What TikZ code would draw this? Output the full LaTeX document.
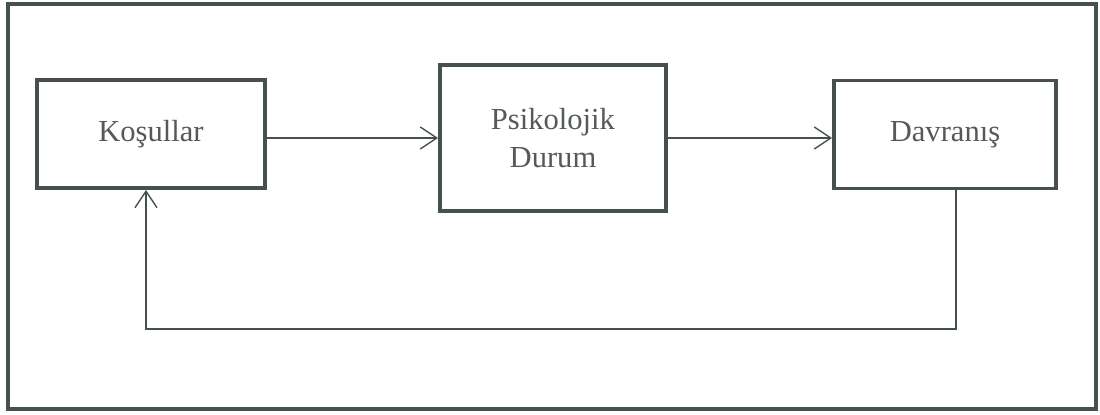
\documentclass[tikz,border=0pt]{standalone}
\usepackage{fontspec}
\setmainfont{Liberation Serif}
\usetikzlibrary{arrows.meta, positioning}

\definecolor{frameGray}{HTML}{46504F}
\definecolor{textGray}{HTML}{55595A}

\begin{document}
\begin{tikzpicture}[
        block/.style={draw=frameGray, line width=2.2pt, minimum width=4.56cm, minimum height=2.16cm,
            align=center, text=textGray, font=\fontsize{17.4}{22}\selectfont},
        link/.style={draw=frameGray, line width=0.8pt, arrows={-Straight Barb[length=3.3mm, width=4.4mm]}}
    ]
        \useasboundingbox (0, 0) rectangle (22, 8.28);
        % outer frame
        \draw [frameGray, line width=2.2pt] (0.16, 0.1) rectangle (21.92, 8.2);
        % the three stages
        \node [block] (kosullar) at (3.02, 5.6) {Koşullar};
        \node [block, minimum width=4.52cm, minimum height=2.92cm] (psikolojik) at (11.06, 5.52) {Psikolojik\\Durum};
        \node [block, minimum width=4.44cm] (davranis) at (18.9, 5.59) {Davranış};
        \draw [link] (kosullar.east |- psikolojik.west) -- (psikolojik.west);
        \draw [link] (psikolojik.east) -- (davranis.west |- psikolojik.east);
        % feedback back to the start
        \coordinate (loopRight) at (19.12, 1.7);
        \coordinate (loopLeft) at (2.92, 1.7);
        \draw [link] (davranis.south -| loopRight) -- (loopRight) -- (loopLeft) -- (kosullar.south -| loopLeft);
    \end{tikzpicture}
\end{document}
